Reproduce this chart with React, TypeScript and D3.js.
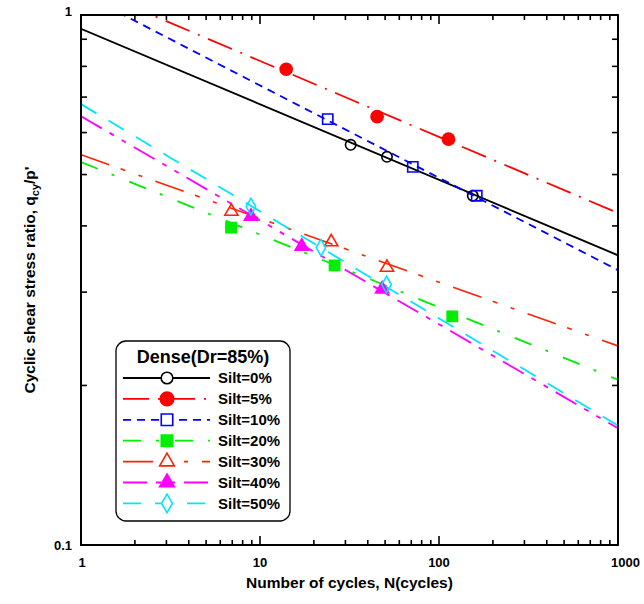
import { useEffect, useRef } from "react";
import * as d3 from "d3";

// fitted trend lines, read at N=1 and N=1000
const fitN = [1, 1000];
const fitQ0 = [0.942, 0.352];
const fitQ5 = [1.14, 0.423];
const fitQ10 = [1.1, 0.33];
const fitQ20 = [0.528, 0.205];
const fitQ30 = [0.545, 0.2375];
const fitQ40 = [0.644, 0.166];
const fitQ50 = [0.679, 0.168];

// test points
const ptsN0 = [32.1, 51.2, 154.5];
const ptsQ0 = [0.569, 0.54, 0.456];
const ptsN5 = [14.0, 45.1, 113];
const ptsQ5 = [0.79, 0.643, 0.583];
const ptsN10 = [23.9, 71.4, 162.5];
const ptsQ10 = [0.636, 0.517, 0.456];
const ptsN20 = [6.89, 26.1, 118.6];
const ptsQ20 = [0.397, 0.337, 0.27];
const ptsN30 = [6.92, 25.0, 51.2];
const ptsQ30 = [0.426, 0.373, 0.334];
const ptsN40 = [8.9, 17.1, 48.1];
const ptsQ40 = [0.417, 0.366, 0.304];
const ptsN50 = [8.9, 21.9, 50.9];
const ptsQ50 = [0.435, 0.364, 0.31];

const seriesNames = ["Silt=0%", "Silt=5%", "Silt=10%", "Silt=20%", "Silt=30%", "Silt=40%", "Silt=50%"];
const xTickLabels = ["1", "10", "100", "1000"];
const yTickLabels = ["0.1", "1"];

const W = 644;
const H = 604;
const FONT = "'Liberation Sans', Arial, sans-serif";

const App = () => {
  const ref = useRef<SVGSVGElement | null>(null);

  useEffect(() => {
    const svg = d3.select(ref.current);
    svg.selectAll("*").remove();

    const marginLeft = 81, marginRight = 26, marginTop = 15, marginBottom = 59;
    const x = d3.scaleLog().domain([1, 1000]).range([marginLeft, W - marginRight]);
    const y = d3.scaleLog().domain([0.1, 1]).range([H - marginBottom, marginTop]);

    const series = [
      { name: seriesNames[0], color: "#000000", dash: null, fq: fitQ0, n: ptsN0, q: ptsQ0, mark: "circle", fill: false, w: 1.8 },
      { name: seriesNames[1], color: "#ff0000", dash: "26,9,2,9", fq: fitQ5, n: ptsN5, q: ptsQ5, mark: "bigcircle", fill: true, w: 1.8 },
      { name: seriesNames[2], color: "#0000ff", dash: "8,6", fq: fitQ10, n: ptsN10, q: ptsQ10, mark: "square", fill: false, w: 1.8 },
      { name: seriesNames[3], color: "#00ee00", dash: "18,15,3,16", fq: fitQ20, n: ptsN20, q: ptsQ20, mark: "square", fill: true, w: 1.8 },
      { name: seriesNames[4], color: "#ff2200", dash: "30,12,5,14,4,14", fq: fitQ30, n: ptsN30, q: ptsQ30, mark: "triangle", fill: false, w: 1.6 },
      { name: seriesNames[5], color: "#ff00ff", dash: "24,9,5,9,5,9", fq: fitQ40, n: ptsN40, q: ptsQ40, mark: "triangle", fill: true, w: 1.8 },
      { name: seriesNames[6], color: "#00e5ff", dash: "18,14", fq: fitQ50, n: ptsN50, q: ptsQ50, mark: "diamond", fill: false, w: 1.8 },
    ];

    svg.append("clipPath").attr("id", "plot-clip")
      .append("rect")
      .attr("x", marginLeft).attr("y", marginTop)
      .attr("width", W - marginLeft - marginRight)
      .attr("height", H - marginTop - marginBottom);

    const line = d3.line<[number, number]>()
      .x(d => x(d[0]))
      .y(d => y(d[1]));

    const symbolFor = (m: string, k = 1) => {
      if (m === "circle") return d3.symbol(d3.symbolCircle, 85 * k);
      if (m === "bigcircle") return d3.symbol(d3.symbolCircle, 115 * k);
      if (m === "square") return d3.symbol(d3.symbolSquare, 105 * k);
      if (m === "triangle") return d3.symbol(d3.symbolTriangle, 75 * k);
      return d3.symbol(d3.symbolDiamond, 80 * k);
    };

    const plot = svg.append("g").attr("clip-path", "url(#plot-clip)");

    series.forEach(s => {
      const pts: [number, number][] = fitN.map((n, i) => [n, s.fq[i]]);
      plot.append("path")
        .attr("fill", "none")
        .attr("stroke", s.color)
        .attr("stroke-width", s.w)
        .attr("stroke-dasharray", s.dash)
        .attr("d", line(pts));
    });

    series.forEach(s => {
      plot.append("g")
        .selectAll("path")
        .data(d3.range(s.n.length))
        .join("path")
        .attr("transform", i => `translate(${x(s.n[i])},${y(s.q[i])})`)
        .attr("d", symbolFor(s.mark)() as string)
        .attr("fill", s.fill ? s.color : "none")
        .attr("stroke", s.color)
        .attr("stroke-width", 1.6);
    });

    // frame
    svg.append("rect")
      .attr("x", marginLeft).attr("y", marginTop)
      .attr("width", W - marginLeft - marginRight)
      .attr("height", H - marginTop - marginBottom)
      .attr("fill", "none")
      .attr("stroke", "#000")
      .attr("stroke-width", 2);

    // ticks, all pointing inward
    const xTicks: { v: number; major: boolean }[] = [];
    [1, 10, 100].forEach(d => {
      for (let k = 1; k < 10; k++) xTicks.push({ v: d * k, major: k === 1 });
    });
    xTicks.push({ v: 1000, major: true });
    const yTicks: { v: number; major: boolean }[] = [];
    for (let k = 1; k <= 10; k++) yTicks.push({ v: k / 10, major: k === 1 || k === 10 });

    const ticks = svg.append("g").attr("stroke", "#000").attr("stroke-width", 1.6);
    const y0 = H - marginBottom, y1 = marginTop, x0 = marginLeft, x1 = W - marginRight;
    xTicks.forEach(t => {
      const len = t.major ? 9 : 5;
      ticks.append("line").attr("x1", x(t.v)).attr("x2", x(t.v)).attr("y1", y0).attr("y2", y0 - len);
      ticks.append("line").attr("x1", x(t.v)).attr("x2", x(t.v)).attr("y1", y1).attr("y2", y1 + len);
    });
    yTicks.forEach(t => {
      const len = t.major ? 9 : 6;
      ticks.append("line").attr("y1", y(t.v)).attr("y2", y(t.v)).attr("x1", x0).attr("x2", x0 + len);
      ticks.append("line").attr("y1", y(t.v)).attr("y2", y(t.v)).attr("x1", x1).attr("x2", x1 - len);
    });

    // tick labels
    svg.append("g")
      .selectAll("text")
      .data(xTickLabels)
      .join("text")
      .attr("x", d => x(+d))
      .attr("y", y0 + 22)
      .attr("text-anchor", d => (d === "1000" ? "end" : "middle"))
      .attr("dx", d => (d === "1000" ? 22 : d === "1" ? 1 : 0))
      .attr("font-family", FONT)
      .attr("font-weight", "bold")
      .attr("font-size", 13)
      .text(d => d);

    svg.append("g")
      .selectAll("text")
      .data(yTickLabels)
      .join("text")
      .attr("x", x0 - 9)
      .attr("y", d => y(+d))
      .attr("dy", d => (d === "1" ? "0.1em" : "0.35em"))
      .attr("text-anchor", "end")
      .attr("font-family", FONT)
      .attr("font-weight", "bold")
      .attr("font-size", 13)
      .text(d => d);

    // axis titles
    svg.append("text")
      .attr("x", (x0 + x1) / 2)
      .attr("y", 588)
      .attr("text-anchor", "middle")
      .attr("font-family", FONT)
      .attr("font-weight", "bold")
      .attr("font-size", 15.5)
      .text("Number of cycles, N(cycles)");

    const yl = svg.append("text")
      .attr("transform", `translate(35,${(y0 + y1) / 2}) rotate(-90)`)
      .attr("text-anchor", "middle")
      .attr("font-family", FONT)
      .attr("font-weight", "bold")
      .attr("font-size", 15.5);
    yl.append("tspan").text("Cyclic shear stress ratio, q");
    yl.append("tspan").attr("font-size", 11).attr("dy", 4).text("cy");
    yl.append("tspan").attr("dy", -4).text("/p'");

    // legend
    const lg = svg.append("g").attr("transform", "translate(116,341)");
    lg.append("rect")
      .attr("width", 174).attr("height", 180)
      .attr("rx", 10)
      .attr("fill", "#fff")
      .attr("stroke", "#000")
      .attr("stroke-width", 1.3);
    lg.append("text")
      .attr("x", 87).attr("y", 16)
      .attr("dy", "0.35em")
      .attr("text-anchor", "middle")
      .attr("font-family", FONT)
      .attr("font-weight", "bold")
      .attr("font-size", 18)
      .text("Dense(Dr=85%)");

    series.forEach((s, i) => {
      const ry = 37 + i * 20.9;
      lg.append("line")
        .attr("x1", 7).attr("x2", 94)
        .attr("y1", ry).attr("y2", ry)
        .attr("stroke", s.color)
        .attr("stroke-width", s.w)
        .attr("stroke-dasharray", s.dash);
      lg.append("path")
        .attr("transform", `translate(51,${ry})`)
        .attr("d", symbolFor(s.mark, 1.25)() as string)
        .attr("fill", s.fill ? s.color : "#ffffff")
        .attr("stroke", s.color)
        .attr("stroke-width", 1.6);
      lg.append("text")
        .attr("x", 102).attr("y", ry)
        .attr("dy", "0.35em")
        .attr("font-family", FONT)
        .attr("font-weight", "bold")
        .attr("font-size", 15)
        .text(s.name);
    });
  }, []);

  return (
    <svg
      ref={ref}
      width={W}
      height={H}
      viewBox={`0 0 ${W} ${H}`}
      style={{ position: "absolute", left: 0, top: 0, background: "#fff" }}
    />
  );
};

export default App;
